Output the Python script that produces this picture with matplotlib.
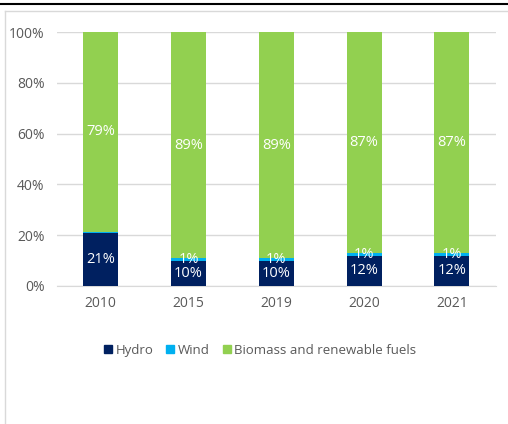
import matplotlib
matplotlib.use("Agg")
import matplotlib.pyplot as plt
from matplotlib.lines import Line2D
from matplotlib.ticker import FuncFormatter
import numpy as np

plt.rcParams['font.family'] = ['Open Sans', 'DejaVu Sans']

years = ["2010", "2015", "2019", "2020", "2021"]
hydro = [21, 10, 10, 12, 12]
wind = [0.4, 1, 1, 1, 1]
biomass = [79, 89, 89, 87, 87]
series_names = ["Hydro", "Wind", "Biomass and renewable fuels"]
colors = ["#002060", "#00b0f0", "#92d050"]

fig = plt.figure(figsize=(5.08, 4.24), dpi=100)
ax = fig.add_axes([0.112, 0.3255, 0.864, 0.599])

x = np.arange(len(years))
width = 0.4
bottom = np.zeros(len(years))
for vals, name, col in zip([hydro, wind, biomass], series_names, colors):
    vals = np.array(vals, dtype=float)
    ax.bar(x, vals, width, bottom=bottom, color=col, label=name, zorder=3)
    for xi, v, b in zip(x, vals, bottom):
        if round(v) >= 1:
            ax.text(xi, b + v / 2, f"{round(v)}%", ha="center", va="center",
                    color="white", fontsize=10.5, zorder=4)
    bottom += vals

ax.set_xlim(-0.5, len(years) - 0.5)
ax.set_ylim(0, 100)
ax.set_yticks(range(0, 101, 20))
ax.yaxis.set_major_formatter(FuncFormatter(lambda v, p: f"{int(v)}%"))
ax.set_xticks(x)
ax.set_xticklabels(years)
ax.grid(axis="y", color="#d9d9d9", linewidth=1, zorder=0)
for s in ["top", "right", "left"]:
    ax.spines[s].set_visible(False)
ax.spines["bottom"].set_color("#d9d9d9")
ax.tick_params(axis="both", length=0, colors="#595959", labelsize=10)
ax.tick_params(axis="y", pad=9)
ax.tick_params(axis="x", pad=7)

handles = [Line2D([0], [0], marker="s", linestyle="none", markersize=6,
                  markerfacecolor=c, markeredgecolor=c) for c in colors]
fig.legend(handles, series_names, loc="center", bbox_to_anchor=(0.512, 0.174),
           ncol=3, frameon=False, fontsize=9.5, handlelength=0.6,
           handletextpad=0.25, columnspacing=1.0, labelcolor="#595959")

# outer decoration lines
fig.add_artist(Line2D([0, 1], [1 - 4 / 424, 1 - 4 / 424], color="black",
                      linewidth=1.5, transform=fig.transFigure))
fig.add_artist(Line2D([5 / 508, 5 / 508], [0, 1 - 11 / 424], color="#d9d9d9",
                      linewidth=1, transform=fig.transFigure))
fig.add_artist(Line2D([5 / 508, 1], [1 - 11 / 424, 1 - 11 / 424], color="#d9d9d9",
                      linewidth=1, transform=fig.transFigure))

fig.savefig("out.png", dpi=100)
